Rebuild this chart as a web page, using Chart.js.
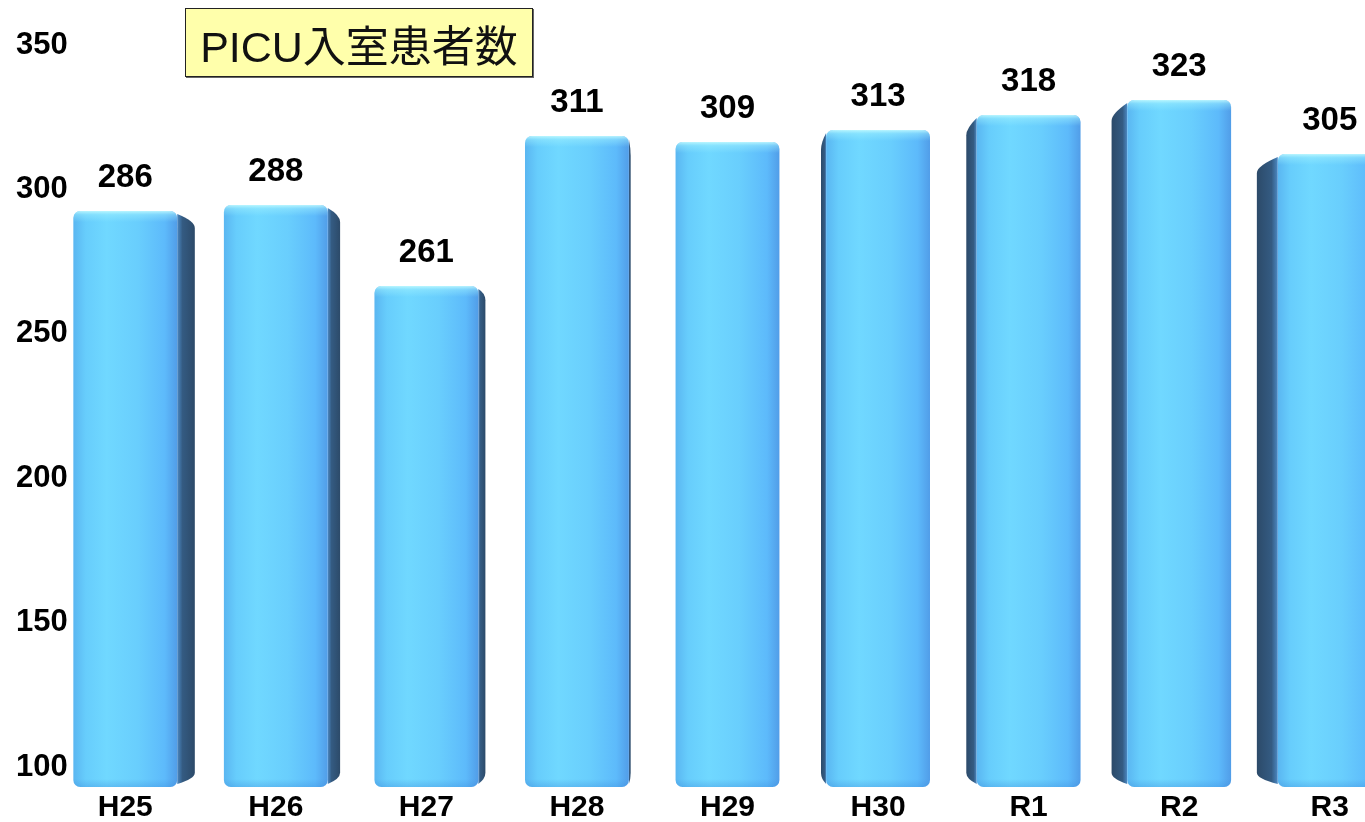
<!DOCTYPE html>
<html>
<head>
<meta charset="utf-8">
<script src="https://cdn.jsdelivr.net/npm/chart.js@4.4.1/dist/chart.umd.min.js"></script>
<style>
  html, body { margin: 0; padding: 0; background: #fff; overflow: hidden; }
  #wrap { position: relative; width: 1365px; height: 822px; overflow: hidden; }
  #c { position: absolute; left: 0; top: 0; }
  #title {
    position: absolute; left: 185px; top: 8px; width: 348px; height: 69px;
    box-sizing: border-box; background: #ffffab; border: 1px solid #222;
    box-shadow: 1px 1px 0 #666;
    font-family: "Liberation Sans", Arial, "Noto Sans CJK JP", sans-serif;
    font-size: 43px; color: #111;
    display: flex; align-items: center; justify-content: center;
  }
</style>
</head>
<body>
<div id="wrap">
  <canvas id="c" width="1405" height="822"></canvas>
  <div id="title">PICU入室患者数</div>
</div>
<script>
// Fiscal years and PICU admissions per year
const categories = ['H25', 'H26', 'H27', 'H28', 'H29', 'H30', 'R1', 'R2', 'R3'];
const admissions = [286, 288, 261, 311, 309, 313, 318, 323, 305];
const tickValues = [100, 150, 200, 250, 300, 350];

const FONT = '"Liberation Sans", Arial, sans-serif';
const BAR_FRACTION = 0.69;
const FRONT_MIN = 94;

// Front face shading: light cyan-blue with a brighter band left of centre
function frontFill(ctx) {
  const chart = ctx.chart;
  const xs = chart.scales.x;
  if (!xs || !chart.chartArea || ctx.type !== 'data') return '#66ccff';
  const cx = xs.getPixelForValue(ctx.dataIndex);
  const w = xs.width / categories.length * BAR_FRACTION;
  const g = chart.ctx.createLinearGradient(cx - w / 2, 0, cx + w / 2, 0);
  g.addColorStop(0, '#5ab6f1');
  g.addColorStop(0.12, '#67cdfc');
  g.addColorStop(0.32, '#70d8ff');
  g.addColorStop(0.62, '#69cefd');
  g.addColorStop(0.88, '#5dbafb');
  g.addColorStop(1, '#519de8');
  return g;
}

// Side faces receding toward a vanishing point, giving the bars depth
const sideFaces = {
  id: 'sideFaces',
  beforeDatasetsDraw(chart) {
    const { ctx, chartArea } = chart;
    const vx = chartArea.left + chartArea.width * 0.465;
    const vy = chartArea.top + chartArea.height * 0.66;
    const f = 0.035;
    chart.getDatasetMeta(0).data.forEach(bar => {
      const { x, y, base, width } = bar.getProps(['x', 'y', 'base', 'width'], true);
      const bottom = Math.min(base, chartArea.bottom);
      const x0 = x - width / 2, x1 = x + width / 2;
      let edge;
      if (x1 < vx - 2) edge = x1;
      else if (x0 > vx + 2) edge = x0;
      else return;
      const bx = edge + f * (vx - edge);
      const bt = y + f * (vy - y);
      const bb = bottom + f * (vy - bottom);
      const g = ctx.createLinearGradient(edge, 0, bx, 0);
      g.addColorStop(0, '#4b88c2');
      g.addColorStop(0.3, '#345b82');
      g.addColorStop(1, '#2c4a69');
      ctx.save();
      ctx.beginPath();
      ctx.moveTo(edge, y + 3);
      ctx.quadraticCurveTo(bx, bt - 1, bx, bt + 6);
      ctx.lineTo(bx, bb - 5);
      ctx.quadraticCurveTo(bx, bb + 1, edge, bottom - 3);
      ctx.closePath();
      ctx.fillStyle = g;
      ctx.fill();
      ctx.restore();
    });
  }
};

// Rounded top highlight on each bar and the value written above it
const barDecor = {
  id: 'barDecor',
  afterDatasetsDraw(chart) {
    const { ctx, chartArea } = chart;
    chart.getDatasetMeta(0).data.forEach((bar, i) => {
      const { x, y, base, width } = bar.getProps(['x', 'y', 'base', 'width'], true);
      const bottom = Math.min(base, chartArea.bottom);
      const x0 = x - width / 2;
      ctx.save();
      ctx.beginPath();
      ctx.roundRect(x0, y, width, bottom - y, 7);
      ctx.clip();
      const g = ctx.createLinearGradient(0, y, 0, y + 11);
      g.addColorStop(0, 'rgba(200,252,255,0.85)');
      g.addColorStop(0.35, 'rgba(160,240,255,0.45)');
      g.addColorStop(1, 'rgba(160,240,255,0)');
      ctx.fillStyle = g;
      ctx.fillRect(x0, y, width, 11);
      const gb = ctx.createLinearGradient(0, bottom - 8, 0, bottom);
      gb.addColorStop(0, 'rgba(60,140,220,0)');
      gb.addColorStop(1, 'rgba(60,140,220,0.35)');
      ctx.fillStyle = gb;
      ctx.fillRect(x0, bottom - 8, width, 8);
      ctx.restore();

      ctx.save();
      ctx.font = 'bold 33px ' + FONT;
      ctx.fillStyle = '#000';
      ctx.textAlign = 'center';
      ctx.textBaseline = 'alphabetic';
      ctx.fillText(String(admissions[i]), x, y - 24);
      ctx.restore();
    });
  }
};

new Chart(document.getElementById('c'), {
  type: 'bar',
  data: {
    labels: categories,
    datasets: [{
      data: admissions,
      yAxisID: 'front',
      base: FRONT_MIN,
      backgroundColor: frontFill,
      borderWidth: 0,
      borderRadius: 7,
      borderSkipped: false,
      barPercentage: BAR_FRACTION,
      categoryPercentage: 1
    }]
  },
  options: {
    responsive: false,
    animation: false,
    layout: { padding: { left: 16, top: 10, right: 0, bottom: 0 } },
    plugins: { legend: { display: false }, tooltip: { enabled: false } },
    scales: {
      x: {
        grid: { display: false, drawTicks: false },
        border: { display: false },
        ticks: {
          color: '#000', padding: 3, maxRotation: 0, autoSkip: false,
          font: { family: FONT, size: 30, weight: 'bold' }
        },
        afterFit(s) { s.height = 35; }
      },
      // value axis drawn on the back wall; labels start at the left margin
      y: {
        position: 'left',
        min: 93.07, max: 362.12,
        grid: { display: false, drawTicks: false },
        border: { display: false },
        afterBuildTicks(s) { s.ticks = tickValues.map(v => ({ value: v })); },
        ticks: {
          color: '#000', mirror: true, padding: -34, crossAlign: 'near',
          font: { family: FONT, size: 31, weight: 'bold' }
        },
        afterFit(s) { s.width = 34; }
      },
      // plane of the bars' front faces, slightly nearer than the back wall
      front: {
        display: false,
        position: 'left',
        min: FRONT_MIN, max: 353
      }
    }
  },
  plugins: [sideFaces, barDecor]
});
</script>
</body>
</html>
